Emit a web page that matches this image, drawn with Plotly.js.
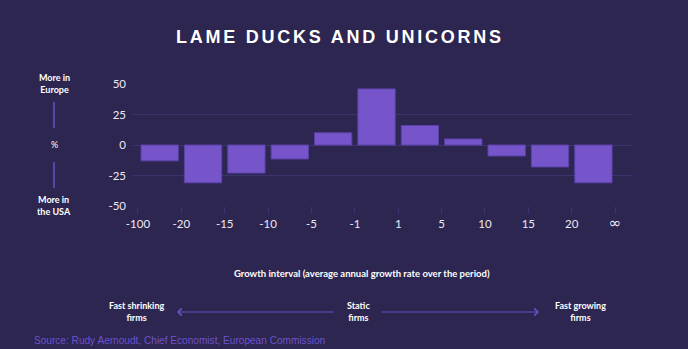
<!DOCTYPE html>
<html>
<head>
<meta charset="utf-8">
<script src="https://cdn.plot.ly/plotly-3.0.1.min.js"></script>
<style>
html,body{margin:0;padding:0;background:#2d2650;}
.gtitle{letter-spacing:2.75px;}
</style>
</head>
<body>
<div id="chart" style="width:688px;height:349px;"></div>
<script>
// Data
const intervalLabels = ["-100", "-20", "-15", "-10", "-5", "-1", "1", "5", "10", "15", "20", "∞"];
const barValues = [-13, -31, -23, -11.5, 10, 46, 16, 5, -9, -18, -31];
const yTicks = [-50, -25, 0, 25, 50];

// layout helpers (pixel -> paper)
const W = 688, H = 349;
const L = 133, R = 632, T = 84, B = 206;
const px = x => (x - L) / (R - L);
const py = y => (B - y) / (B - T);

const barColor = "#7654c9";
const lineColor = "#6a4fc6";
const textColor = "#ece9f5";
const bg = "#2d2650";
const grid = "#3c3470";

const centers = barValues.map((v, i) => i + 0.5);
const tickPos = intervalLabels.map((t, i) => i);
const tickText = intervalLabels.map(t => t === "∞"
  ? '<span style="font-family:\'DejaVu Sans\';font-size:15px">' + t + '</span>' : t);

const trace = {
  type: "bar",
  x: centers,
  y: barValues,
  width: 0.86,
  marker: {color: barColor, line: {color: "#5b42a8", width: 1}},
  hoverinfo: "skip"
};

const lblFont = {family: "Lato, 'Open Sans', sans-serif", size: 9, color: "#ffffff"};

const annotations = [
  {text: "<b>More in<br>Europe</b>", x: px(54), y: py(83)},
  {text: "%", x: px(54), y: py(144), bold: false},
  {text: "<b>More in<br>the USA</b>", x: px(54), y: py(205)},
  {text: "<b>Growth interval (average annual growth rate over the period)</b>", x: px(362), y: py(273), size: 9.5},
  {text: "<b>Fast shrinking<br>firms</b>", x: px(136), y: py(311)},
  {text: "<b>Static<br>firms</b>", x: px(358), y: py(311)},
  {text: "<b>Fast growing<br>firms</b>", x: px(580), y: py(311)}
].map(a => ({
  text: a.text, x: a.x, y: a.y, xref: "paper", yref: "paper",
  showarrow: false, xanchor: "center", yanchor: "middle", align: "center",
  font: Object.assign({}, lblFont, a.size ? {size: a.size} : {})
}));

// source line
annotations.push({
  text: "Source: Rudy Aernoudt, Chief Economist, European Commission",
  x: px(32), y: py(340), xref: "paper", yref: "paper", showarrow: false,
  xanchor: "left", yanchor: "middle",
  font: {family: "'Liberation Sans', Arial, sans-serif", size: 10.1, color: "#6c52cf"}
});

// arrows
annotations.push({
  text: "", x: px(177), y: py(312), xref: "paper", yref: "paper",
  showarrow: true, ax: 158, ay: 0, arrowhead: 4, arrowsize: 1.4, arrowwidth: 1, arrowcolor: lineColor
});
annotations.push({
  text: "", x: px(539), y: py(312), xref: "paper", yref: "paper",
  showarrow: true, ax: -159, ay: 0, arrowhead: 4, arrowsize: 1.4, arrowwidth: 1, arrowcolor: lineColor
});

const shapes = [
  {type: "line", xref: "paper", yref: "paper", x0: px(54), x1: px(54), y0: py(102), y1: py(128), line: {color: lineColor, width: 1.5}},
  {type: "line", xref: "paper", yref: "paper", x0: px(54), x1: px(54), y0: py(162), y1: py(188), line: {color: lineColor, width: 1.5}}
];

const layout = {
  width: W, height: H,
  paper_bgcolor: bg, plot_bgcolor: bg,
  margin: {l: L, r: W - R, t: T, b: H - B, pad: 0},
  showlegend: false,
  title: {
    text: "<b>LAME DUCKS AND UNICORNS</b>",
    x: 0.494, xanchor: "center", y: 1 - 37 / H, yanchor: "middle", yref: "container",
    font: {family: "'Liberation Sans', Arial, sans-serif", size: 18, color: "#ffffff"}
  },
  xaxis: {
    range: [-0.115, 11.39],
    tickmode: "array", tickvals: tickPos, ticktext: tickText,
    showgrid: false, zeroline: false, showline: false,
    ticks: "outside", ticklen: 7, tickcolor: grid, tickwidth: 1,
    tickfont: {family: "Lato, 'Open Sans', sans-serif", size: 11.5, color: textColor},
    fixedrange: true
  },
  yaxis: {
    range: [-50, 50],
    tickmode: "array", tickvals: yTicks, ticktext: yTicks.map(String),
    showgrid: true, gridcolor: grid, gridwidth: 1,
    zeroline: false, showline: false, ticks: "",
    ticklabelstandoff: 6,
    tickfont: {family: "Lato, 'Open Sans', sans-serif", size: 11.5, color: textColor},
    fixedrange: true
  },
  bargap: 0,
  annotations: annotations,
  shapes: shapes
};

Plotly.newPlot("chart", [trace], layout, {displayModeBar: false, staticPlot: true});
</script>
</body>
</html>
